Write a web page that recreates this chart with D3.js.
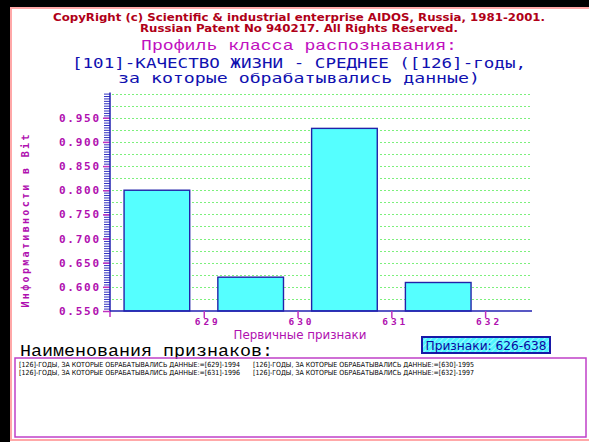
<!DOCTYPE html>
<html>
<head>
<meta charset="utf-8">
<script src="https://cdn.jsdelivr.net/npm/d3@7/dist/d3.min.js"></script>
<style>
  html, body { margin: 0; padding: 0; background: #fff; }
  svg { display: block; }
</style>
</head>
<body>
<script>
// Profile of a recognition class: information value of primary features
const codes = [629, 630, 631, 632];
const values = [0.800, 0.620, 0.928, 0.609];
const yMajorTicks = [0.550, 0.600, 0.650, 0.700, 0.750, 0.800, 0.850, 0.900, 0.950];
const gridValues = d3.range(0.575, 1.0001, 0.025);
const minorTicks = d3.range(0.550, 1.0001, 0.005);
const featureNames = [
  "[126]-ГОДЫ, ЗА КОТОРЫЕ ОБРАБАТЫВАЛИСЬ ДАННЫЕ:=[629]-1994",
  "[126]-ГОДЫ, ЗА КОТОРЫЕ ОБРАБАТЫВАЛИСЬ ДАННЫЕ:=[630]-1995",
  "[126]-ГОДЫ, ЗА КОТОРЫЕ ОБРАБАТЫВАЛИСЬ ДАННЫЕ:=[631]-1996",
  "[126]-ГОДЫ, ЗА КОТОРЫЕ ОБРАБАТЫВАЛИСЬ ДАННЫЕ:=[632]-1997"
];
const titleLines = [
  "CopyRight (c) Scientific & industrial enterprise AIDOS, Russia, 1981-2001.",
  "Russian Patent No 940217. All Rights Reserved.",
  "Профиль класса распознавания:",
  "[101]-КАЧЕСТВО ЖИЗНИ - СРЕДНЕЕ ([126]-годы,",
  "за которые обрабатывались данные)"
];
const rangeLabel = "Признаки: 626-638";

const W = 589, H = 442;
const svg = d3.select("body").append("svg").attr("width", W).attr("height", H);

// hatched fill for the range badge
const defs = svg.append("defs");
const pat = defs.append("pattern").attr("id", "hatch").attr("patternUnits", "userSpaceOnUse")
  .attr("width", 4).attr("height", 4).attr("patternTransform", "rotate(45)");
pat.append("rect").attr("width", 4).attr("height", 4).attr("fill", "#4ff4ff");
pat.append("line").attr("x1", 0).attr("y1", 0).attr("x2", 0).attr("y2", 4)
  .attr("stroke", "#c8ffff").attr("stroke-width", 1.2);

// window frame
svg.append("rect").attr("x", 0).attr("y", 0).attr("width", W).attr("height", 7).attr("fill", "#000");
svg.append("rect").attr("x", 0).attr("y", 0).attr("width", 10).attr("height", H).attr("fill", "#000");
svg.append("rect").attr("x", 11).attr("y", 8).attr("width", W + 5).attr("height", 432)
  .attr("fill", "none").attr("stroke", "#ffa8a8").attr("stroke-width", 2);

// titles
const titleStyle = [
  { y: 16.5, fill: "#b00018", size: 10.5, family: "'DejaVu Sans Condensed', 'Liberation Sans Narrow', sans-serif", weight: "bold", len: 492 },
  { y: 28, fill: "#b00018", size: 10.5, family: "'DejaVu Sans Condensed', 'Liberation Sans Narrow', sans-serif", weight: "bold", len: 318 },
  { y: 46, fill: "#c010c0", size: 15, family: "'Liberation Mono', 'DejaVu Sans Mono', monospace", weight: "normal", len: 316 },
  { y: 63, fill: "#1010b0", size: 14, family: "'DejaVu Sans Mono', monospace", weight: "normal", len: 454 },
  { y: 78, fill: "#1010b0", size: 14, family: "'DejaVu Sans Mono', monospace", weight: "normal", len: 362 }
];
svg.append("g").selectAll("text").data(titleLines).join("text")
  .attr("x", 299)
  .attr("y", (d, i) => titleStyle[i].y)
  .attr("text-anchor", "middle")
  .attr("dominant-baseline", "central")
  .attr("fill", (d, i) => titleStyle[i].fill)
  .attr("font-size", (d, i) => titleStyle[i].size)
  .attr("font-family", (d, i) => titleStyle[i].family)
  .attr("font-weight", (d, i) => titleStyle[i].weight)
  .attr("textLength", (d, i) => titleStyle[i].len)
  .attr("lengthAdjust", "spacingAndGlyphs")
  .text(d => d);

// scales
const x = d3.scaleLinear().domain([628, 632.5]).range([110, 532]);
const y = d3.scaleLinear().domain([0.55, 1.0]).range([311, 93.6]);
const barW = x(628.7) - x(628);

// grid
svg.append("g").selectAll("line").data(gridValues).join("line")
  .attr("x1", x(628) + 2).attr("x2", x(632.5) - 1)
  .attr("y1", d => Math.round(y(d)) + 0.5).attr("y2", d => Math.round(y(d)) + 0.5)
  .attr("stroke", "#7cf07c").attr("stroke-width", 1.2).attr("stroke-dasharray", "2,2");

// bars
svg.append("g").selectAll("rect").data(codes).join("rect")
  .attr("x", (d) => x(d - 0.5) - barW / 2)
  .attr("y", (d, i) => y(values[i]))
  .attr("width", barW)
  .attr("height", (d, i) => y(0.55) - y(values[i]))
  .attr("fill", "#55ffff")
  .attr("stroke", "#2222a8")
  .attr("stroke-width", 1.4);

// y axis: minor ticks
const yMinor = svg.append("g").attr("transform", `translate(${x(628)},0)`)
  .call(d3.axisLeft(y).tickValues(minorTicks).tickSize(6).tickFormat(""));
yMinor.select(".domain").remove();
yMinor.selectAll(".tick line").attr("stroke", "#3030c0").attr("stroke-width", 1);

// y axis: labelled ticks
const yMajor = svg.append("g").attr("transform", `translate(${x(628)},0)`)
  .call(d3.axisLeft(y).tickValues(yMajorTicks).tickSize(7).tickPadding(4).tickFormat(d3.format(".3f")));
yMajor.select(".domain").remove();
yMajor.selectAll(".tick line").attr("stroke", "#c030c0").attr("stroke-width", 1.5);
yMajor.selectAll(".tick text")
  .attr("fill", "#b010b0").attr("font-size", 11).attr("font-weight", "bold")
  .attr("font-family", "'DejaVu Sans Mono', monospace")
  .attr("textLength", 40).attr("lengthAdjust", "spacing");

// axis lines
svg.append("line").attr("x1", x(628)).attr("x2", x(628))
  .attr("y1", y(1.0) - 1).attr("y2", y(0.55))
  .attr("stroke", "#2020b0").attr("stroke-width", 1.5);
svg.append("line").attr("x1", x(628)).attr("x2", x(628))
  .attr("y1", y(0.55)).attr("y2", y(0.55) + 6)
  .attr("stroke", "#c030c0").attr("stroke-width", 1.5);
svg.append("line").attr("x1", x(628)).attr("x2", x(632.5))
  .attr("y1", y(0.55)).attr("y2", y(0.55))
  .attr("stroke", "#2020b0").attr("stroke-width", 1.5);

// x axis ticks
const xAxis = svg.append("g").attr("transform", `translate(0,${y(0.55)})`)
  .call(d3.axisBottom(x).tickValues(codes).tickSize(7).tickPadding(0).tickFormat(d3.format("d")));
xAxis.select(".domain").remove();
xAxis.selectAll(".tick line").attr("stroke", "#c030c0").attr("stroke-width", 1.5);
xAxis.selectAll(".tick text")
  .attr("dx", 2)
  .attr("fill", "#b010b0").attr("font-size", 9.5).attr("font-weight", "bold")
  .attr("font-family", "'DejaVu Sans Mono', monospace")
  .attr("textLength", 23).attr("lengthAdjust", "spacing");

// axis titles
svg.append("text").attr("x", 300).attr("y", 335)
  .attr("text-anchor", "middle").attr("dominant-baseline", "central")
  .attr("fill", "#b010b0").attr("font-size", 12)
  .attr("font-family", "'DejaVu Sans Condensed', sans-serif")
  .attr("textLength", 133).attr("lengthAdjust", "spacingAndGlyphs")
  .text("Первичные признаки");
svg.append("text")
  .attr("transform", "translate(25,221) rotate(-90)")
  .attr("text-anchor", "middle").attr("dominant-baseline", "central")
  .attr("fill", "#b010b0").attr("font-size", 10).attr("font-weight", "bold")
  .attr("font-family", "'DejaVu Sans Mono', monospace")
  .attr("textLength", 173).attr("lengthAdjust", "spacing")
  .text("Информативности в Bit");

// range badge
svg.append("rect").attr("x", 422).attr("y", 337).attr("width", 128).attr("height", 16)
  .attr("fill", "url(#hatch)").attr("stroke", "#1818a8").attr("stroke-width", 2);
svg.append("text").attr("x", 486).attr("y", 345.5)
  .attr("text-anchor", "middle").attr("dominant-baseline", "central")
  .attr("fill", "#0a0aa0").attr("font-size", 13)
  .attr("font-family", "'DejaVu Sans Condensed', sans-serif")
  .attr("textLength", 121).attr("lengthAdjust", "spacingAndGlyphs")
  .text(rangeLabel);

// feature names
svg.append("text").attr("x", 20).attr("y", 352)
  .attr("dominant-baseline", "central")
  .attr("fill", "#000").attr("font-size", 16)
  .attr("font-family", "'Liberation Mono', 'Courier New', monospace")
  .attr("textLength", 253).attr("lengthAdjust", "spacingAndGlyphs")
  .text("Наименования признаков:");
svg.append("rect").attr("x", 15).attr("y", 358).attr("width", 571).attr("height", 79)
  .attr("fill", "none").attr("stroke", "#c040c8").attr("stroke-width", 1.5);
svg.append("g").selectAll("text").data(featureNames).join("text")
  .attr("x", (d, i) => i % 2 === 0 ? 19 : 253)
  .attr("y", (d, i) => 365 + Math.floor(i / 2) * 8)
  .attr("dominant-baseline", "central")
  .attr("fill", "#000").attr("font-size", 7)
  .attr("font-family", "'DejaVu Sans Condensed', sans-serif")
  .attr("textLength", 221).attr("lengthAdjust", "spacingAndGlyphs")
  .text(d => d);
</script>
</body>
</html>
